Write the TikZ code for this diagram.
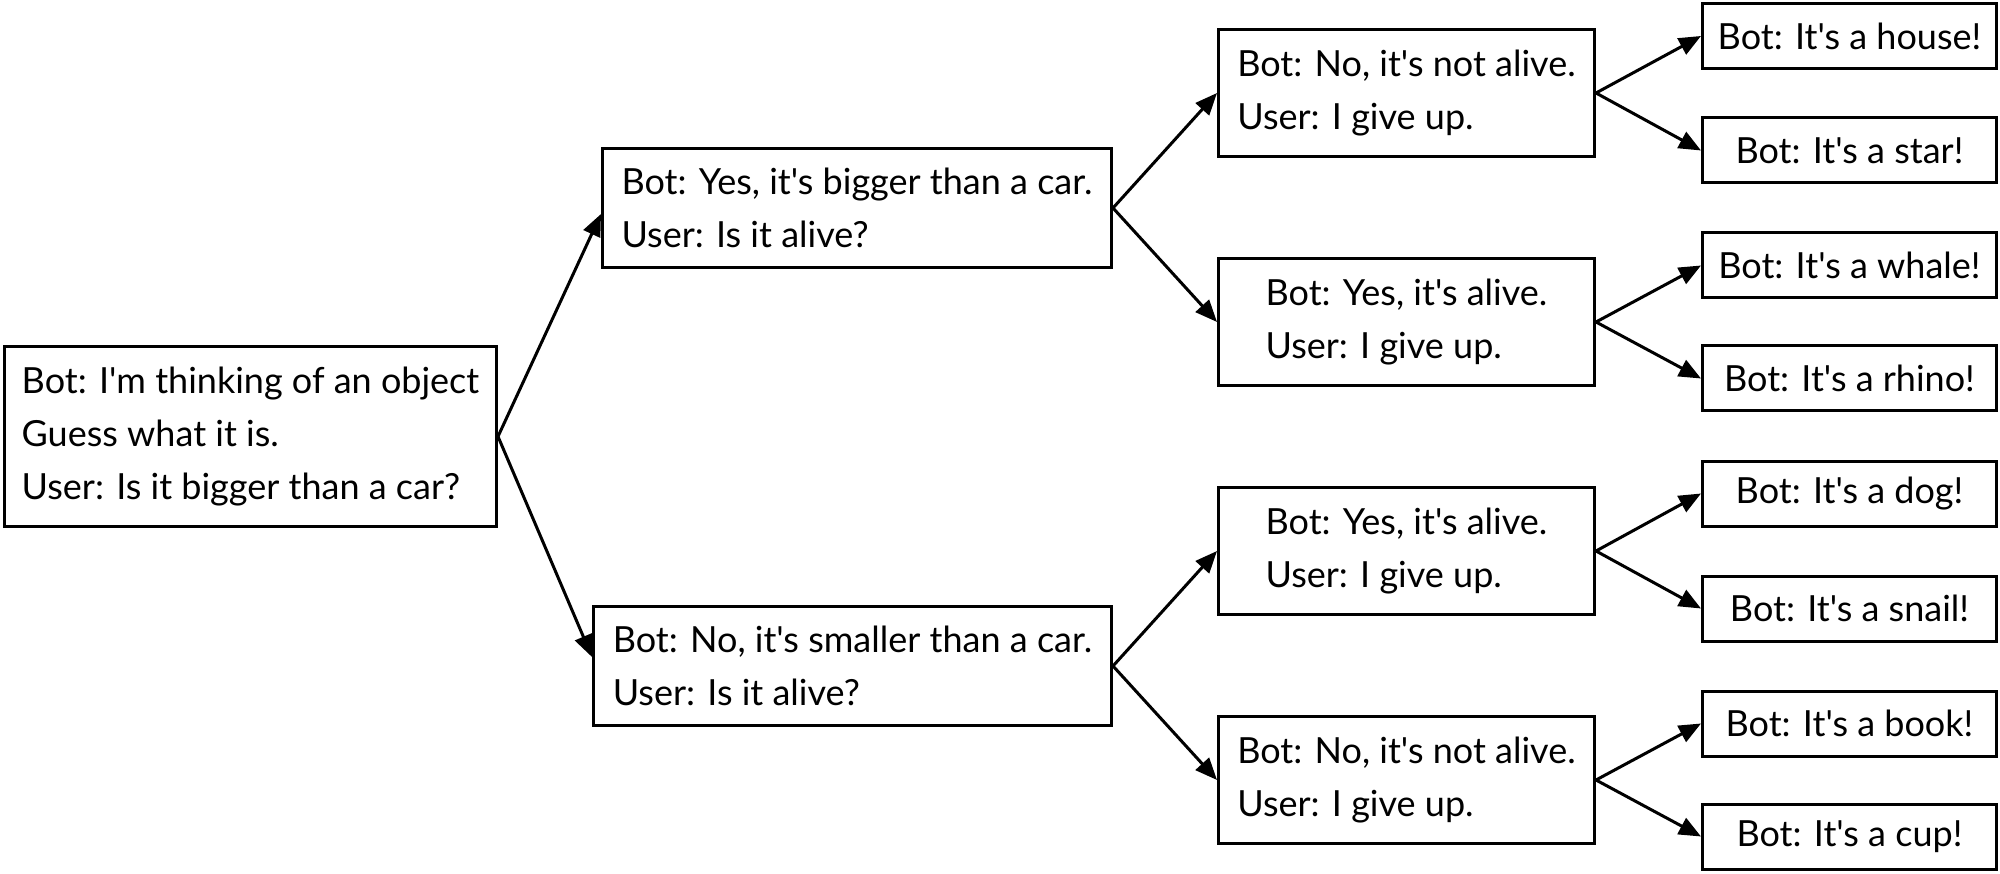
\documentclass[tikz,border=0pt]{standalone}
\usepackage{fontspec}
\setmainfont{Lato}[Ligatures=TeXOff]
\usetikzlibrary{arrows.meta}
\tikzset{
  box/.style={draw, line width=3pt, rectangle, align=left, inner sep=0pt,
    font=\fontsize{36}{53}\selectfont},
  rootbox/.style={box, minimum width=492pt, minimum height=180pt},
  midbox/.style={box, minimum height=119pt},
  thirdbox/.style={box, minimum width=376pt, minimum height=127pt},
  leafbox/.style={box, minimum width=294pt, minimum height=65pt},
  conn/.style={line width=3pt, -{Triangle[length=22pt,width=18pt]}}
}
\begin{document}
\begin{tikzpicture}[x=1pt,y=-1pt]
\fill[white] (0,0) rectangle (2000,874);
\useasboundingbox (0,0) rectangle (2000,874);
\node[rootbox] (root) at (250.5,436.5) {Bot: I'm thinking of an object\\Guess what it is.\\User: Is it bigger than a car?};
\node[midbox, minimum width=509pt] (A) at (857,208) {Bot: Yes, it's bigger than a car.\\User: Is it alive?};
\node[midbox, minimum width=518pt] (B) at (852.5,666) {Bot: No, it's smaller than a car.\\User: Is it alive?};
\node[thirdbox] (C1) at (1406.5,93) {Bot: No, it's not alive.\\User: I give up.};
\node[thirdbox] (C2) at (1406.5,322) {Bot: Yes, it's alive.\\User: I give up.};
\node[thirdbox] (C3) at (1406.5,551) {Bot: Yes, it's alive.\\User: I give up.};
\node[thirdbox] (C4) at (1406.5,780) {Bot: No, it's not alive.\\User: I give up.};
\node[leafbox] (L1) at (1849.5,36) {Bot: It's a house!};
\node[leafbox] (L2) at (1849.5,150.5) {Bot: It's a star!};
\node[leafbox] (L3) at (1849.5,265.5) {Bot: It's a whale!};
\node[leafbox] (L4) at (1849.5,378.5) {Bot: It's a rhino!};
\node[leafbox] (L5) at (1849.5,493.5) {Bot: It's a dog!};
\node[leafbox] (L6) at (1849.5,608.5) {Bot: It's a snail!};
\node[leafbox] (L7) at (1849.5,723.5) {Bot: It's a book!};
\node[leafbox] (L8) at (1849.5,836.5) {Bot: It's a cup!};
\draw[conn] (root.east) -- ([yshift=-6pt]A.west);
\draw[conn] (root.east) -- ([yshift=9pt]B.west);
\draw[conn] (A.east) -- (C1.west);
\draw[conn] (A.east) -- (C2.west);
\draw[conn] (B.east) -- (C3.west);
\draw[conn] (B.east) -- (C4.west);
\draw[conn] (C1.east) -- (L1.west);
\draw[conn] (C1.east) -- (L2.west);
\draw[conn] (C2.east) -- (L3.west);
\draw[conn] (C2.east) -- (L4.west);
\draw[conn] (C3.east) -- (L5.west);
\draw[conn] (C3.east) -- (L6.west);
\draw[conn] (C4.east) -- (L7.west);
\draw[conn] (C4.east) -- (L8.west);
\end{tikzpicture}
\end{document}
